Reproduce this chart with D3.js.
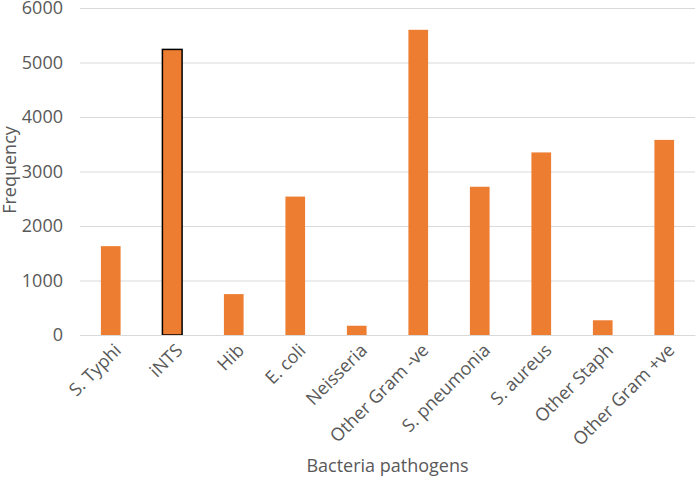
<!DOCTYPE html>
<html>
<head>
<meta charset="utf-8">
<script src="https://cdn.jsdelivr.net/npm/d3@7"></script>
<style>
    body { margin: 0; background: #fff; }
    svg text { font-family: "Open Sans", "Noto Sans", sans-serif; fill: #595959; }
</style>
</head>
<body>
<div id="chart"></div>
<script>
// chart data
const categories = ["S. Typhi", "iNTS", "Hib", "E. coli", "Neisseria", "Other Gram -ve",
    "S. pneumonia", "S. aureus", "Other Staph", "Other Gram +ve"];
const frequency = [1630, 5240, 750, 2540, 170, 5600, 2720, 3350, 270, 3580];
const yTicks = [0, 1000, 2000, 3000, 4000, 5000, 6000];
const highlighted = ["iNTS"];

const WIDTH = 696, HEIGHT = 480;
const MARGIN = { LEFT: 80, RIGHT: 1, TOP: 8, BOTTOM: 145 };
const innerW = WIDTH - MARGIN.LEFT - MARGIN.RIGHT;
const innerH = HEIGHT - MARGIN.TOP - MARGIN.BOTTOM;

const svg = d3.select("#chart").append("svg")
    .attr("width", WIDTH)
    .attr("height", HEIGHT);

const g = svg.append("g")
    .attr("transform", `translate(${MARGIN.LEFT}, ${MARGIN.TOP})`);

const x = d3.scaleBand().domain(categories).range([0, innerW]).paddingInner(0.68).paddingOuter(0.34);
const y = d3.scaleLinear().domain([0, 6000]).range([innerH, 0]);

// gridlines
g.append("g")
    .call(d3.axisLeft(y).tickValues(yTicks).tickSize(-innerW).tickFormat(""))
    .call(s => s.select(".domain").remove())
    .selectAll("line")
    .attr("stroke", "#d9d9d9")
    .attr("stroke-width", 1);

// y tick labels
g.append("g")
    .call(d3.axisLeft(y).tickValues(yTicks).tickSize(0).tickPadding(17).tickFormat(d3.format("d")))
    .call(s => s.select(".domain").remove())
    .selectAll("text")
    .style("font-size", "18px")
    .attr("fill", "#595959");

// bars
g.selectAll(".bar")
    .data(categories)
    .join("rect")
    .attr("class", "bar")
    .attr("x", d => x(d))
    .attr("width", x.bandwidth())
    .attr("y", (d, i) => y(frequency[i]))
    .attr("height", (d, i) => innerH - y(frequency[i]))
    .attr("fill", "#ed7d31")
    .attr("stroke", d => highlighted.includes(d) ? "#000" : "none")
    .attr("stroke-width", 1.5);

// x axis
const xAxis = g.append("g")
    .attr("transform", `translate(0, ${innerH})`)
    .call(d3.axisBottom(x).tickSize(0).tickPadding(0));
xAxis.select(".domain").attr("stroke", "#d9d9d9");
xAxis.selectAll("text")
    .style("font-size", "18px")
    .attr("fill", "#595959")
    .attr("text-anchor", "end")
    .attr("dy", "0.35em")
    .attr("transform", "translate(7, 12) rotate(-45)");

// axis titles
svg.append("text")
    .attr("transform", "rotate(-90)")
    .attr("x", -170)
    .attr("y", 16)
    .attr("text-anchor", "middle")
    .style("font-size", "18px")
    .text("Frequency");

svg.append("text")
    .attr("x", MARGIN.LEFT + innerW / 2)
    .attr("y", 472)
    .attr("text-anchor", "middle")
    .style("font-size", "18px")
    .text("Bacteria pathogens");
</script>
</body>
</html>
